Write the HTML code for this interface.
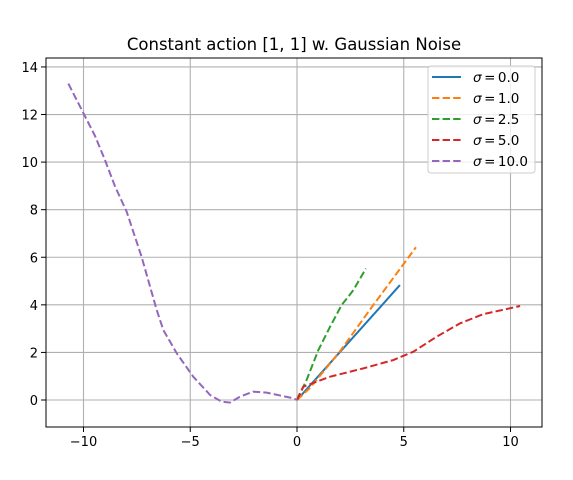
<!DOCTYPE html>
<html><head><meta charset="utf-8"><style>
body{margin:0;background:#fff;}
svg{display:block;font-family:"DejaVu Sans","Liberation Sans",sans-serif;}
</style></head><body>
<svg id="chart" width="573" height="480">
<rect width="573" height="480" fill="#fff"/>
<g id="grid"></g><g id="series"></g><g id="axes"></g>
</svg>
<script>
const xTicks=[-10,-5,0,5,10];
const yTicks=[0,2,4,6,8,10,12,14];
const seriesValues=["0.0","1.0","2.5","5.0","10.0"];
const seriesColors=["#1f77b4","#ff7f0e","#2ca02c","#d62728","#9467bd"];
const s0x=[0,4.82];const s0y=[0,4.83];
const s1x=[0,0.6,2.0,3.5,5.57];const s1y=[0,0.5,2.03,3.9,6.42];
const s2x=[0,0.06,0.45,1.0,1.55,2.09,2.64,3.23];const s2y=[0,0.14,0.84,2.1,3.08,3.99,4.62,5.53];
const s3x=[0,0.3,1.55,3.11,4.51,5.45,6.54,7.63,8.73,10.45];const s3y=[0,0.56,0.98,1.33,1.68,2.03,2.66,3.22,3.61,3.95];
const s4x=[-10.71,-10.0,-9.46,-9.0,-8.52,-7.98,-7.28,-6.57,-6.26,-5.63,-4.86,-4.07,-3.53,-3.14,-2.67,-2.05,-1.42,-0.17,0];
const s4y=[13.3,12.05,11.1,10.1,8.97,7.92,6.02,3.78,2.94,1.96,0.98,0.21,-0.07,-0.11,0.14,0.35,0.31,0.07,0];
const XS=[s0x,s1x,s2x,s3x,s4x],YS=[s0y,s1y,s2y,s3y,s4y];
const L=46,R=542,T=58,B=427;
const xScale=v=>297+v*21.35;
const yScale=v=>400-v*23.79;
const NS="http://www.w3.org/2000/svg";
const DASH='7.4,3.2';
function mk(tag,attrs,parent){const e=document.createElementNS(NS,tag);for(const k in attrs)e.setAttribute(k,attrs[k]);parent.appendChild(e);return e;}
const grid=document.getElementById('grid'),ser=document.getElementById('series'),ax=document.getElementById('axes');
xTicks.forEach(t=>{const x=xScale(t);
const g=mk('line',{x1:x,x2:x,y1:T,y2:B,stroke:'#b0b0b0','stroke-width':1.1},grid);


mk('line',{x1:x,x2:x,y1:B,y2:B+5,stroke:'#000'},ax);
const tx=mk('text',{x:x,y:B+19,'text-anchor':'middle','font-size':13},ax);tx.textContent=t<0?'−'+(-t):t;

});
yTicks.forEach(t=>{const y=yScale(t);
const g=mk('line',{x1:L,x2:R,y1:y,y2:y,stroke:'#b0b0b0','stroke-width':1.1},grid);


mk('line',{x1:L-5,x2:L,y1:y,y2:y,stroke:'#000'},ax);
const tx=mk('text',{x:L-8,y:y+5,'text-anchor':'end','font-size':13},ax);tx.textContent=t;

});
XS.forEach((xs,i)=>{const pts=xs.map((v,j)=>xScale(v)+','+yScale(YS[i][j])).join(' ');
const p=mk('polyline',{points:pts,fill:'none',stroke:seriesColors[i],'stroke-width':2,'stroke-dasharray':i==0?'none':DASH},ser);

});
const fr=mk('rect',{x:L,y:T,width:R-L,height:B-T,fill:'none',stroke:'#000','stroke-width':1},ax);


const ti=mk('text',{x:(L+R)/2,y:50,'text-anchor':'middle','font-size':16.5},ax);ti.textContent='Constant action [1, 1] w. Gaussian Noise';


const lg=mk('g',{},ax);


mk('rect',{x:428,y:66,width:107,height:107,rx:3,fill:'#fff','fill-opacity':0.8,stroke:'#ccc'},lg);
seriesValues.forEach((n,i)=>{const y=77+i*21;
mk('line',{x1:432,x2:461,y1:y,y2:y,stroke:seriesColors[i],'stroke-width':2,'stroke-dasharray':i==0?'none':DASH},lg);
const t=mk('text',{x:473,y:y+5,'font-size':13.5},lg);
t.innerHTML='<tspan font-style="italic">σ</tspan><tspan dx="2.5">=</tspan><tspan dx="2.5">'+n+'</tspan>';

});
</script>
</body></html>
